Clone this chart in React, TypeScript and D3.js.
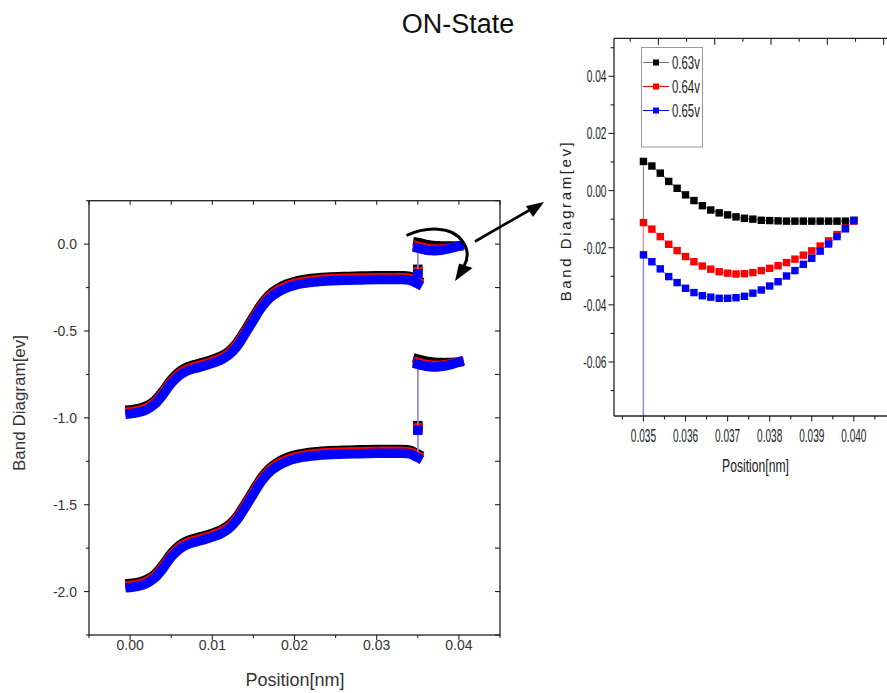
import React from "react";
import * as d3 from "d3";

const W = 887;
const H = 693;

const seriesNames = ["0.63v", "0.64v", "0.65v"];
const seriesColors = ["#000000", "#ff0000", "#0000ff"];
const thinColors = ["#8c8c8c", "#ff8c8c", "#8c8cf0"];

// main band x positions (nm)
const bandX = [0, 0.001, 0.002, 0.003, 0.004, 0.005, 0.006, 0.007, 0.008, 0.009, 0.01, 0.011, 0.012, 0.013, 0.014, 0.015, 0.016, 0.017, 0.018, 0.019, 0.02, 0.022, 0.024, 0.026, 0.028, 0.03, 0.032, 0.033, 0.034, 0.0345, 0.035];

// conduction band
const cb063 = [-0.954, -0.947, -0.931, -0.9, -0.845, -0.78, -0.734, -0.707, -0.692, -0.679, -0.664, -0.646, -0.617, -0.567, -0.494, -0.417, -0.343, -0.288, -0.254, -0.231, -0.215, -0.198, -0.19, -0.186, -0.184, -0.182, -0.182, -0.182, -0.186, -0.195, -0.207];
const cb064 = [-0.965, -0.958, -0.942, -0.911, -0.856, -0.791, -0.745, -0.718, -0.703, -0.69, -0.675, -0.657, -0.628, -0.578, -0.505, -0.428, -0.354, -0.299, -0.265, -0.242, -0.226, -0.209, -0.201, -0.197, -0.195, -0.193, -0.193, -0.193, -0.197, -0.206, -0.218];
const cb065 = [-0.976, -0.969, -0.953, -0.922, -0.867, -0.802, -0.756, -0.729, -0.714, -0.701, -0.686, -0.668, -0.639, -0.589, -0.516, -0.439, -0.365, -0.31, -0.276, -0.253, -0.237, -0.22, -0.212, -0.208, -0.206, -0.204, -0.204, -0.204, -0.208, -0.217, -0.229];

// valence band
const vb063 = [-1.954, -1.947, -1.931, -1.9, -1.845, -1.78, -1.734, -1.707, -1.692, -1.679, -1.664, -1.646, -1.617, -1.567, -1.494, -1.417, -1.343, -1.288, -1.254, -1.231, -1.215, -1.198, -1.19, -1.186, -1.184, -1.182, -1.182, -1.182, -1.186, -1.195, -1.207];
const vb064 = [-1.965, -1.958, -1.942, -1.911, -1.856, -1.791, -1.745, -1.718, -1.703, -1.69, -1.675, -1.657, -1.628, -1.578, -1.505, -1.428, -1.354, -1.299, -1.265, -1.242, -1.226, -1.209, -1.201, -1.197, -1.195, -1.193, -1.193, -1.193, -1.197, -1.206, -1.218];
const vb065 = [-1.976, -1.969, -1.953, -1.922, -1.867, -1.802, -1.756, -1.729, -1.714, -1.701, -1.686, -1.668, -1.639, -1.589, -1.516, -1.439, -1.365, -1.31, -1.276, -1.253, -1.237, -1.22, -1.212, -1.208, -1.206, -1.204, -1.204, -1.204, -1.208, -1.217, -1.229];

// step points at the interface x = 0.035
const stepX = 0.035;
const cbStep = [-0.145, -0.158, -0.171];
const vbStep = [-1.045, -1.058, -1.071];

// zoomed region (inset) 0.035 - 0.040
const insetX = [0.035, 0.0352, 0.0354, 0.0356, 0.0358, 0.036, 0.0362, 0.0364, 0.0366, 0.0368, 0.037, 0.0372, 0.0374, 0.0376, 0.0378, 0.038, 0.0382, 0.0384, 0.0386, 0.0388, 0.039, 0.0392, 0.0394, 0.0396, 0.0398, 0.04];
const ins063 = [0.0102, 0.0086, 0.0061, 0.0032, 0.0008, -0.0015, -0.0035, -0.0053, -0.0068, -0.0078, -0.0085, -0.0092, -0.0097, -0.01, -0.0104, -0.0105, -0.0106, -0.0107, -0.0107, -0.0107, -0.0107, -0.0107, -0.0107, -0.0107, -0.0107, -0.0104];
const ins064 = [-0.0112, -0.0135, -0.0161, -0.0188, -0.021, -0.0231, -0.0249, -0.0264, -0.0275, -0.0284, -0.0289, -0.0292, -0.0291, -0.0287, -0.028, -0.0272, -0.0263, -0.0252, -0.024, -0.0226, -0.0211, -0.0194, -0.0176, -0.0154, -0.0132, -0.0107];
const ins065 = [-0.0225, -0.0249, -0.0274, -0.0301, -0.0322, -0.0342, -0.0357, -0.0368, -0.0373, -0.0377, -0.0377, -0.0375, -0.037, -0.0359, -0.0348, -0.0334, -0.0319, -0.0299, -0.028, -0.0258, -0.0237, -0.0212, -0.0187, -0.0161, -0.0134, -0.0105];

// lower short segment 0.035 - 0.040
const lowX = [0.035, 0.0355, 0.036, 0.0365, 0.037, 0.0375, 0.038, 0.0385, 0.039, 0.0395, 0.04];
const low063 = [-0.662, -0.668, -0.673, -0.677, -0.68, -0.681, -0.682, -0.682, -0.681, -0.68, -0.678];
const low064 = [-0.681, -0.687, -0.692, -0.695, -0.697, -0.697, -0.695, -0.692, -0.688, -0.684, -0.678];
const low065 = [-0.692, -0.698, -0.703, -0.706, -0.707, -0.706, -0.703, -0.699, -0.694, -0.687, -0.679];

const cbSeries = [cb063, cb064, cb065];
const vbSeries = [vb063, vb064, vb065];
const insSeries = [ins063, ins064, ins065];
const lowSeries = [low063, low064, low065];

const mainXTicks = [0, 0.01, 0.02, 0.03, 0.04];
const mainYTicks = [-2.0, -1.5, -1.0, -0.5, 0.0];
const insetXTicks = [0.035, 0.036, 0.037, 0.038, 0.039, 0.04];
const insetYTicks = [-0.06, -0.04, -0.02, 0.0, 0.02, 0.04];

const FONT = "'Liberation Sans', Arial, Helvetica, sans-serif";

type P = [number, number];

export default function App() {
  // main plot
  const M = { l: 89, r: 500, t: 200.7, b: 635 };
  const xM = d3.scaleLinear().domain([-0.005, 0.045]).range([M.l, M.r]);
  const yM = d3.scaleLinear().domain([-2.25, 0.25]).range([M.b, M.t]);
  // inset
  const I = { l: 614, r: 891.7, t: 38.3, b: 416 };
  const xI = d3.scaleLinear().domain([0.0343, 0.0409]).range([I.l, I.r]);
  const yI = d3.scaleLinear().domain([-0.0789, 0.0533]).range([I.b, I.t]);

  const zip = (xs: number[], ys: number[]): P[] => xs.map((x, i) => [x, ys[i]] as P);

  const thickM = d3.line<P>().x(d => xM(d[0])).y(d => yM(d[1])).curve(d3.curveCatmullRom.alpha(0.5));
  const thinM = d3.line<P>().x(d => xM(d[0])).y(d => yM(d[1]));
  const thinI = d3.line<P>().x(d => xI(d[0])).y(d => yI(d[1]));

  const mainMinorX = d3.range(-0.005, 0.0451, 0.005);
  const mainMinorY = d3.range(-2.25, 0.251, 0.25);
  const insetMinorX = d3.range(0.0345, 0.0406, 0.0005);
  const insetMinorY = d3.range(-0.07, 0.0501, 0.01);
  // top axis of the inset image (mirror axis with its own spacing)
  const topStep = 0.00066925;
  const insetTopTicks = d3.range(0.035355 - topStep, 0.0409, topStep);

  const markSize = 9.5;
  const insMark = 7.4;

  return (
    <svg width={W} height={H} style={{ position: "absolute", left: 0, top: 0, background: "#fff" }} fontFamily={FONT}>
      <defs>
        <clipPath id="mainClip">
          <rect x={M.l} y={M.t} width={M.r - M.l} height={M.b - M.t} />
        </clipPath>
        <clipPath id="insetClip">
          <rect x={I.l} y={I.t} width={I.r - I.l} height={I.b - I.t} />
        </clipPath>
      </defs>
      <rect x={0} y={0} width={W} height={H} fill="#fff" />

      {/* title */}
      <text x={458} y={33} fontSize={27} textAnchor="middle" fill="#111">ON-State</text>

      {/* ================= MAIN PLOT ================= */}
      <g clipPath="url(#mainClip)">
        {[0, 1, 2].map(i => {
          const cbPts = zip(bandX, cbSeries[i]);
          const vbPts = zip(bandX, vbSeries[i]);
          const upPts = zip(insetX, insSeries[i]);
          const loPts = zip(lowX, lowSeries[i]);
          const cbAll: P[] = [...cbPts, [stepX, cbStep[i]], ...upPts];
          const vbAll: P[] = [...vbPts, [stepX, vbStep[i]], ...loPts];
          return (
            <g key={i}>
              <path d={thinM(cbAll) || ""} fill="none" stroke={thinColors[i]} strokeWidth={1.3} />
              <path d={thinM(vbAll) || ""} fill="none" stroke={thinColors[i]} strokeWidth={1.3} />
              {[cbPts, vbPts, upPts, loPts].map((pts, k) => (
                <path key={k} d={thickM(pts) || ""} fill="none" stroke={seriesColors[i]}
                  strokeWidth={markSize} strokeLinecap="square" strokeLinejoin="round" />
              ))}
              {[cbStep[i], vbStep[i]].map((v, k) => (
                <rect key={k} x={xM(stepX) - markSize / 2} y={yM(v) - markSize / 2}
                  width={markSize} height={markSize} fill={seriesColors[i]} />
              ))}
            </g>
          );
        })}
      </g>

      {/* main frame */}
      <rect x={M.l} y={M.t} width={M.r - M.l} height={M.b - M.t} fill="none" stroke="#222" strokeWidth={1.3} />
      {mainMinorX.map((v, i) => (
        <line key={"bx" + i} x1={xM(v)} x2={xM(v)} y1={M.b} y2={M.b + (mainXTicks.some(t => Math.abs(t - v) < 1e-9) ? 5 : 3)} stroke="#222" strokeWidth={1.1} />
      ))}
      {mainMinorX.map((v, i) => (
        <line key={"tx" + i} x1={xM(v)} x2={xM(v)} y1={M.t} y2={M.t + 4} stroke="#222" strokeWidth={1.1} />
      ))}
      {mainMinorY.map((v, i) => (
        <line key={"ly" + i} x1={M.l} x2={M.l - (mainYTicks.some(t => Math.abs(t - v) < 1e-9) ? 5 : 3)} y1={yM(v)} y2={yM(v)} stroke="#222" strokeWidth={1.1} />
      ))}
      {mainMinorY.map((v, i) => (
        <line key={"ry" + i} x1={M.r} x2={M.r - 5} y1={yM(v)} y2={yM(v)} stroke="#222" strokeWidth={1.1} />
      ))}
      {mainXTicks.map((v, i) => (
        <text key={"bxl" + i} x={xM(v)} y={650} fontSize={14} textAnchor="middle" fill="#333">{v.toFixed(2)}</text>
      ))}
      {mainYTicks.map((v, i) => (
        <text key={"lyl" + i} x={77} y={yM(v) + 5} fontSize={14} textAnchor="end" fill="#333">{v.toFixed(1)}</text>
      ))}
      <text x={295} y={686} fontSize={18} textAnchor="middle" fill="#333">Position[nm]</text>
      <text transform="translate(25,403) rotate(-90)" fontSize={17} textAnchor="middle" fill="#333">Band Diagram[ev]</text>

      {/* arrows */}
      <line x1={475} y1={241.5} x2={534} y2={207.5} stroke="#000" strokeWidth={2.6} />
      <polygon points="544,202 526,206 533,217" fill="#000" />
      <path d="M406.5,235.5 C425,227 452,225 463,242 C469,251 468,259 464,266" fill="none" stroke="#000" strokeWidth={3} />
      <polygon points="455,281 459,263.5 472.5,268" fill="#000" />

      {/* ================= INSET ================= */}
      <g clipPath="url(#insetClip)">
        {[0, 1, 2].map(i => {
          const pts = zip(insetX, insSeries[i]);
          const all: P[] = [[stepX, cbSeries[i][cbSeries[i].length - 1]], [stepX, cbStep[i]], ...pts];
          return (
            <g key={i}>
              <path d={thinI(all) || ""} fill="none" stroke={thinColors[i]} strokeWidth={1.2} />
              {pts.map((p, k) => (
                <rect key={k} x={xI(p[0]) - insMark / 2} y={yI(p[1]) - insMark / 2}
                  width={insMark} height={insMark} fill={seriesColors[i]} />
              ))}
            </g>
          );
        })}
      </g>
      <line x1={I.l} x2={I.l} y1={I.t} y2={I.b} stroke="#222" strokeWidth={1.3} />
      <line x1={I.l} x2={I.r} y1={I.t} y2={I.t} stroke="#222" strokeWidth={1.3} />
      <line x1={I.l} x2={I.r} y1={I.b} y2={I.b} stroke="#222" strokeWidth={1.3} />
      <line x1={I.r} x2={I.r} y1={I.t} y2={I.b} stroke="#222" strokeWidth={1.3} />
      {insetMinorX.map((v, i) => (
        <line key={"ibx" + i} x1={xI(v)} x2={xI(v)} y1={I.b} y2={I.b + (insetXTicks.some(t => Math.abs(t - v) < 1e-9) ? 5.5 : 3.5)} stroke="#222" strokeWidth={1.1} />
      ))}
      {insetTopTicks.map((v, i) => (
        <line key={"itx" + i} x1={xI(v)} x2={xI(v)} y1={I.t} y2={I.t + (i % 2 === 1 ? 6.5 : 3.5)} stroke="#222" strokeWidth={1.1} />
      ))}
      {insetMinorY.map((v, i) => (
        <line key={"ily" + i} x1={I.l} x2={I.l - (insetYTicks.some(t => Math.abs(t - v) < 1e-9) ? 5.5 : 3.5)} y1={yI(v)} y2={yI(v)} stroke="#222" strokeWidth={1.1} />
      ))}
      {insetXTicks.map((v, i) => (
        <text key={"ixl" + i} transform={`translate(${xI(v)},442) scale(0.56,1)`} fontSize={18} textAnchor="middle" fill="#222">{v.toFixed(3)}</text>
      ))}
      {insetYTicks.map((v, i) => (
        <text key={"iyl" + i} transform={`translate(606.5,${yI(v) + 6}) scale(0.6,1)`} fontSize={17} textAnchor="end" fill="#222">{(Math.abs(v) < 1e-9 ? 0 : v).toFixed(2)}</text>
      ))}
      <text transform="translate(755.5,472) scale(0.64,1)" fontSize={19} textAnchor="middle" fill="#222">Position[nm]</text>
      <text transform="translate(571,220.5) rotate(-90)" fontSize={15} letterSpacing={2.6} textAnchor="middle" fill="#222">Band Diagram[ev]</text>

      {/* legend */}
      <rect x={641.5} y={47.5} width={61} height={99.5} fill="#fff" stroke="#999" strokeWidth={1} />
      {seriesNames.map((name, i) => {
        const cy = 62.5 + i * 24;
        return (
          <g key={name}>
            <line x1={643} x2={669} y1={cy} y2={cy} stroke={i === 0 ? "#777" : seriesColors[i]} strokeWidth={1} />
            <rect x={656 - 3} y={cy - 3} width={6} height={6} fill={seriesColors[i]} />
            <text transform={`translate(672,${cy + 6.5}) scale(0.6,1)`} fontSize={19} fill="#222">{name}</text>
          </g>
        );
      })}
    </svg>
  );
}
